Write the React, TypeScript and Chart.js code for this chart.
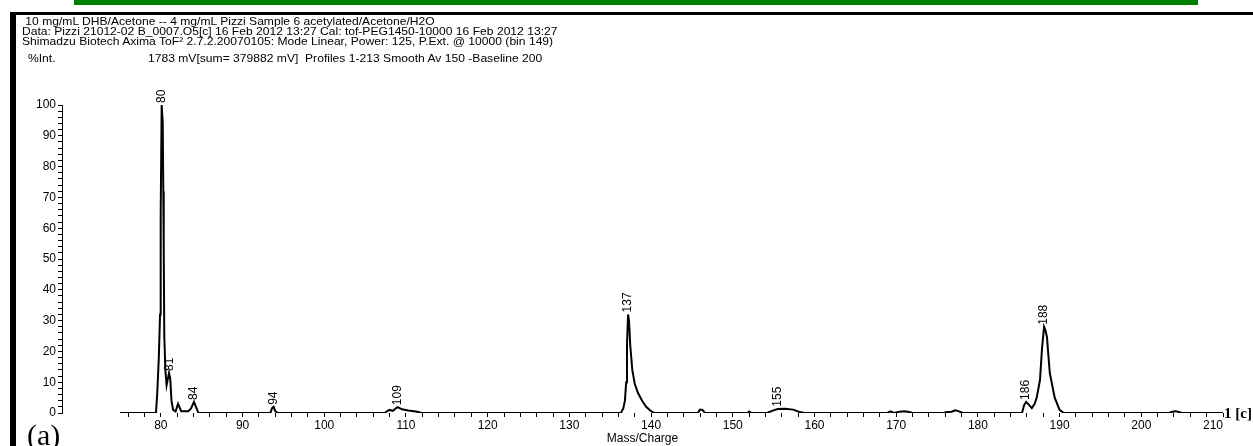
import React, { useEffect, useRef } from "react";
import { Chart, registerables } from "chart.js";

Chart.register(...registerables);

// Spectrum (m/z vs % intensity)
const mz: number[] = [
  75, 79.4, 79.56, 79.75, 79.9, 79.98, 80.1, 80.23, 80.3, 80.35, 80.42, 80.55, 80.7, 80.85, 81.0, 81.15, 81.3, 81.5, 81.8, 82.1, 82.5, 83.35, 83.7, 84.05, 84.3, 84.6,
  93.4, 93.6, 93.8, 94.0, 94.3,
  107.4, 107.8, 108.0, 108.4, 108.8, 109.0, 109.5, 110.3, 111.2, 112,
  136.3, 136.6, 136.8, 136.95, 137.05, 137.18, 137.3, 137.45, 137.7, 138.0, 138.4, 138.9, 139.4, 139.9, 140.4,
  145.7, 146.0, 146.3, 146.6,
  151.8, 152.0, 152.3,
  154.2, 154.8, 155.5, 156.4, 157.4, 158.2, 158.8,
  168.9, 169.3, 169.7, 170.4, 171.0, 171.6, 172,
  175.8, 176.2, 176.8, 177.2, 177.6, 178.2,
  185.4, 185.65, 185.9, 186.2, 186.6, 186.95, 187.2, 187.6, 187.85, 188.1, 188.25, 188.45, 188.8, 189.4, 190.0, 190.5,
  203.4, 203.8, 204.2, 204.6, 205.0, 210,
];
const intensity: number[] = [
  0, 0, 6.5, 18, 32, 65, 100, 94, 72, 54, 25, 14, 9, 11, 13, 11, 4, 1, 0.5, 3, 0.6, 0.6, 1.5, 3.6, 2, 0,
  0, 1.5, 2, 0.6, 0,
  0, 0.8, 1, 0.7, 1.6, 1.9, 1.2, 0.8, 0.5, 0,
  0, 1.5, 4, 10, 22, 32, 30, 22, 14, 9.5, 6.5, 4, 2, 0.8, 0,
  0, 1.1, 1, 0,
  0, 0.5, 0,
  0, 0.7, 1.3, 1.4, 1.1, 0.3, 0,
  0, 0.5, 0, 0.4, 0.6, 0.3, 0,
  0, 0.3, 0.4, 0.9, 0.6, 0,
  0, 2.5, 3.6, 2.8, 1.6, 3, 5, 10.7, 21, 28, 27, 24.7, 13, 5, 1, 0,
  0, 0.4, 0.6, 0.3, 0, 0,
];

// Peak annotations
const peakLabels: string[] = ["80", "81", "84", "94", "109", "137", "155", "186", "188"];
const peakX: number[] = [80.08, 81.05, 84.05, 93.8, 109.0, 137.18, 155.5, 185.9, 188.1];
const peakY: number[] = [100, 13, 3.6, 2, 1.9, 32, 1.4, 3.6, 28];

// Axis ticks
const xTickValues: number[] = [];
for (let v = 76; v <= 210; v += 2) xTickValues.push(v);
const X_MIN = 67.9;
const X_MAX = 210;

const headerLines: string[] = [
  " 10 mg/mL DHB/Acetone -- 4 mg/mL Pizzi Sample 6 acetylated/Acetone/H2O",
  "Data: Pizzi 21012-02 B_0007.O5[c] 16 Feb 2012 13:27 Cal: tof-PEG1450-10000 16 Feb 2012 13:27",
  "Shimadzu Biotech Axima ToF\u00b2 2.7.2.20070105: Mode Linear, Power: 125, P.Ext. @ 10000 (bin 149)",
];
const intLabel = "%Int.";
const infoLine = "1783 mV[sum= 379882 mV]  Profiles 1-213 Smooth Av 150 -Baseline 200";

const FONT = "'Liberation Sans', Arial, sans-serif";

const peakLabelPlugin = {
  id: "peakLabels",
  afterDatasetsDraw(chart: any) {
    const { ctx, scales } = chart;
    ctx.save();
    ctx.fillStyle = "#000";
    ctx.font = `12px ${FONT}`;
    ctx.textAlign = "left";
    ctx.textBaseline = "middle";
    peakLabels.forEach((lab, i) => {
      const px = scales.x.getPixelForValue(peakX[i]);
      const py = scales.y.getPixelForValue(peakY[i]) - 2;
      ctx.save();
      ctx.translate(px, py);
      ctx.rotate(-Math.PI / 2);
      ctx.fillText(lab, 0, 0);
      ctx.restore();
    });
    ctx.restore();
  },
};

export default function App() {
  const ref = useRef<HTMLCanvasElement | null>(null);
  useEffect(() => {
    if (!ref.current) return;
    const chart = new Chart(ref.current, {
      type: "line",
      data: {
        datasets: [
          {
            data: mz.map((x, i) => ({ x, y: intensity[i] })),
            borderColor: "#000",
            borderWidth: 2,
            pointRadius: 0,
            tension: 0,
            fill: false,
          },
        ],
      },
      options: {
        animation: false,
        responsive: false,
        devicePixelRatio: 1,
        layout: { padding: { left: 17, right: 30, top: 105, bottom: 0 } },
        plugins: { legend: { display: false }, tooltip: { enabled: false } },
        scales: {
          x: {
            type: "linear",
            min: X_MIN,
            max: X_MAX,
            afterFit: (s: any) => {
              s.height = 33;
            },
            afterBuildTicks: (s: any) => {
              s.ticks = xTickValues.map((v) => ({ value: v }));
            },
            border: { display: false },
            grid: { drawOnChartArea: false, drawTicks: true, tickLength: 4, color: "#000", tickColor: "#000" },
            ticks: {
              autoSkip: false,
              maxRotation: 0,
              align: "inner",
              padding: 1,
              color: "#000",
              font: { family: FONT, size: 12 },
              callback: (v: any) => (Number(v) % 10 === 0 ? String(v) : ""),
            },
            title: {
              display: true,
              text: "Mass/Charge",
              color: "#000",
              font: { family: FONT, size: 12 },
              padding: { top: 2, bottom: 0 },
            },
          },
          y: {
            min: 0,
            max: 100,
            afterFit: (s: any) => {
              s.width = 45;
            },
            afterBuildTicks: (s: any) => {
              const t = [];
              for (let v = 0; v <= 100; v += 2) t.push({ value: v });
              s.ticks = t;
            },
            border: { display: true, color: "#000", width: 1 },
            grid: { drawOnChartArea: false, drawTicks: true, tickLength: 4, color: "#000", tickColor: "#000" },
            ticks: {
              autoSkip: false,
              padding: 2,
              color: "#000",
              font: { family: FONT, size: 12 },
              callback: (v: any) => (Number(v) % 10 === 0 ? String(v) : ""),
            },
          },
        },
      },
      plugins: [peakLabelPlugin],
    } as any);
    return () => chart.destroy();
  }, []);

  const txt: React.CSSProperties = {
    position: "absolute",
    fontFamily: FONT,
    fontSize: 11,
    lineHeight: "10px",
    color: "#000",
    whiteSpace: "pre",
    transformOrigin: "left center",
    transform: "scaleX(1.1)",
  };

  return (
    <div style={{ position: "absolute", left: 0, top: 0, width: 1253, height: 446, background: "#fff", overflow: "hidden" }}>
      <div style={{ position: "absolute", left: 74, top: 0, width: 1124, height: 5, background: "#008000" }} />
      <div style={{ position: "absolute", left: 10, top: 12, width: 1243, height: 3, background: "#000" }} />
      <div style={{ position: "absolute", left: 10, top: 12, width: 6, height: 434, background: "#000" }} />
      <canvas ref={ref} width={1253} height={446} style={{ position: "absolute", left: 0, top: 0 }} />
      {headerLines.map((l, i) => (
        <div key={i} style={{ ...txt, left: 22, top: 16 + i * 10 }}>
          {l}
        </div>
      ))}
      <div style={{ ...txt, left: 28, top: 53 }}>{intLabel}</div>
      <div style={{ ...txt, left: 148, top: 53 }}>{infoLine}</div>
      <div
        style={{
          position: "absolute",
          left: 27,
          top: 420,
          fontFamily: "'Liberation Serif', 'Times New Roman', serif",
          fontSize: 30,
          lineHeight: "30px",
          color: "#000",
        }}
      >
        (a)
      </div>
      <div
        style={{
          position: "absolute",
          left: 1224,
          top: 404,
          fontFamily: "'Liberation Serif', 'Times New Roman', serif",
          fontWeight: "bold",
          fontSize: 15,
          lineHeight: "18px",
          color: "#000",
          whiteSpace: "pre",
        }}
      >
        1 [c]
      </div>
    </div>
  );
}
